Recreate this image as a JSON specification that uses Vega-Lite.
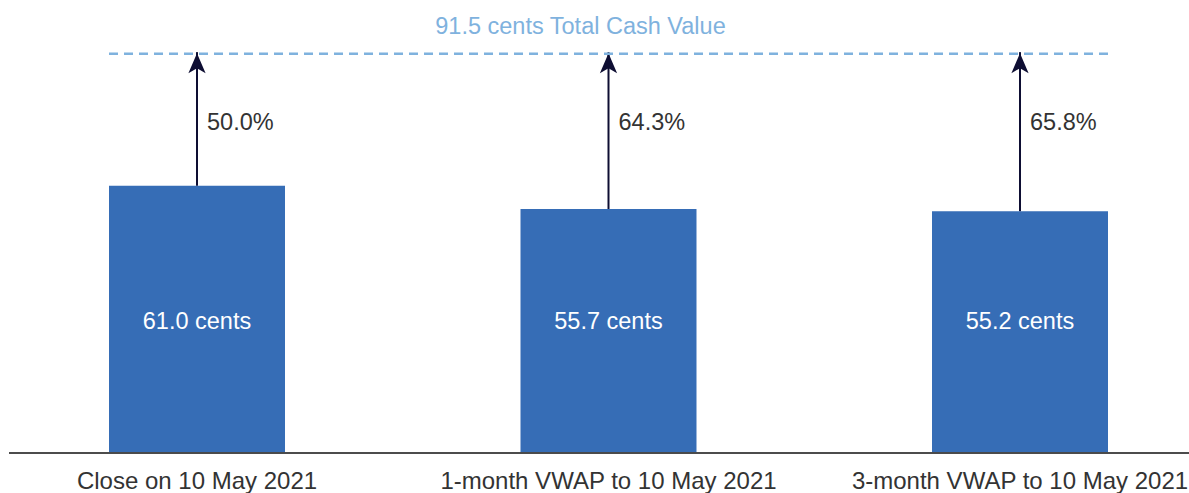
{
  "$schema": "https://vega.github.io/schema/vega-lite/v6.json",
  "width": 1180,
  "height": 453,
  "padding": {"left": 9, "top": 0, "right": 0, "bottom": 40},
  "autosize": {"type": "none"},
  "background": "white",
  "config": {
    "view": {"stroke": null},
    "font": "Liberation Sans, Arial, Helvetica, sans-serif",
    "text": {"font": "Liberation Sans, Arial, Helvetica, sans-serif"}
  },
  "datasets": {
    "prices": [
      {"category": "Close on 10 May 2021", "price": 61.0, "total": 91.5, "premium": 0.5, "priceLabel": "61.0 cents"},
      {"category": "1-month VWAP to 10 May 2021", "price": 55.7, "total": 91.5, "premium": 0.643, "priceLabel": "55.7 cents"},
      {"category": "3-month VWAP to 10 May 2021", "price": 55.2, "total": 91.5, "premium": 0.658, "priceLabel": "55.2 cents"}
    ],
    "offer": [
      {"first": "Close on 10 May 2021", "last": "3-month VWAP to 10 May 2021", "mid": "1-month VWAP to 10 May 2021", "total": 91.5, "label": "91.5 cents Total Cash Value"}
    ]
  },
  "data": {"name": "prices"},
  "encoding": {
    "x": {
      "field": "category",
      "type": "nominal",
      "scale": {
        "domain": ["Close on 10 May 2021", "1-month VWAP to 10 May 2021", "3-month VWAP to 10 May 2021"],
        "range": [100, 1099],
        "paddingInner": 0.5723,
        "paddingOuter": 0
      },
      "axis": {
        "title": null,
        "domain": false,
        "ticks": false,
        "labelAngle": 0,
        "labelFontSize": 24,
        "labelColor": "#333333",
        "labelPadding": 16,
        "labelLimit": 0,
        "labelFont": "Liberation Sans, Arial, Helvetica, sans-serif"
      }
    }
  },
  "layer": [
    {
      "mark": {"type": "bar", "color": "#366db6"},
      "encoding": {
        "y": {"field": "price", "type": "quantitative", "scale": {"domain": [0, 103.4], "nice": false, "zero": true}, "axis": null}
      }
    },
    {
      "mark": {"type": "rule", "color": "#4a4a4a", "strokeWidth": 1.5},
      "encoding": {"y": {"datum": 0, "type": "quantitative"}, "x": {"value": 0}, "x2": {"value": 1189}}
    },
    {
      "mark": {"type": "rule", "color": "#0e0e33", "strokeWidth": 2},
      "encoding": {
        "y": {"field": "price", "type": "quantitative"},
        "y2": {"field": "total"}
      }
    },
    {
      "mark": {"type": "point", "filled": true, "shape": "M0,-1L0.86,1L0,0.5L-0.86,1Z", "size": 400, "color": "#0e0e33", "opacity": 1, "yOffset": 11},
      "encoding": {
        "y": {"field": "total", "type": "quantitative"}
      }
    },
    {
      "mark": {"type": "text", "align": "left", "baseline": "middle", "fontSize": 23.5, "color": "#333333", "dx": 10},
      "encoding": {
        "y": {"datum": 75.3, "type": "quantitative"},
        "text": {"field": "premium", "type": "quantitative", "format": ".1%"}
      }
    },
    {
      "mark": {"type": "text", "align": "center", "baseline": "middle", "fontSize": 23.5, "color": "white"},
      "encoding": {
        "y": {"datum": 29.9, "type": "quantitative"},
        "text": {"field": "priceLabel", "type": "nominal"}
      }
    },
    {
      "data": {"name": "offer"},
      "mark": {"type": "rule", "color": "#7fb2de", "strokeWidth": 2.5, "strokeDash": [9, 6], "yOffset": 1.5},
      "encoding": {
        "x": {"field": "first", "type": "nominal", "bandPosition": 0},
        "x2": {"field": "last", "bandPosition": 1},
        "y": {"field": "total", "type": "quantitative"}
      }
    },
    {
      "data": {"name": "offer"},
      "mark": {"type": "text", "align": "center", "baseline": "middle", "fontSize": 23.5, "color": "#7fb2de", "xOffset": -28, "yOffset": -25},
      "encoding": {
        "x": {"field": "mid", "type": "nominal"},
        "y": {"field": "total", "type": "quantitative"},
        "text": {"field": "label", "type": "nominal"}
      }
    }
  ]
}
